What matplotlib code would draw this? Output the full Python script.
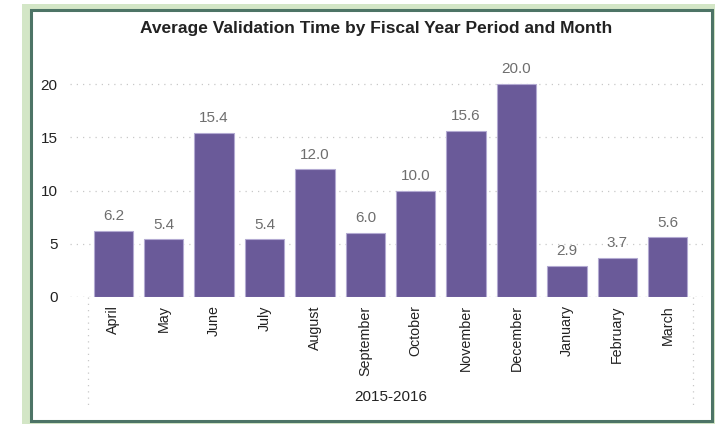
import matplotlib
matplotlib.use("Agg")
import matplotlib.pyplot as plt
from matplotlib.patches import Rectangle

plt.rcParams.update({"font.family": ["Liberation Sans", "DejaVu Sans"]})

months = ["April", "May", "June", "July", "August", "September", "October",
          "November", "December", "January", "February", "March"]
avg_time = [6.2, 5.4, 15.4, 5.4, 12.0, 6.0, 10.0, 15.6, 20.0, 2.9, 3.7, 5.6]
period = "2015-2016"
yticks = [0, 5, 10, 15, 20]

W, H = 715, 424
fig = plt.figure(figsize=(W / 100, H / 100), dpi=100)
fig.patch.set_facecolor("white")

# panel frame: light green band + dark teal border
fig.patches.append(Rectangle((22 / W, 0), (W - 22) / W, (H - 4) / H,
                             transform=fig.transFigure, facecolor="#d3e6c6",
                             edgecolor="none", zorder=0))
fig.patches.append(Rectangle((31 / W, 3 / H), (712 - 31) / W, (H - 13) / H,
                             transform=fig.transFigure, facecolor="white",
                             edgecolor="#4d7466", lw=2.2, zorder=1))

y0, ppu = 297, 10.65
ytop = 22.5
ax = fig.add_axes([70 / W, (H - y0) / H, 635 / W, ytop * ppu / H])
ax.set_zorder(2)
ax.patch.set_alpha(0)

x = range(len(months))
bars = ax.bar(x, avg_time, width=0.78, color="#6a5a99", edgecolor="#b3aad2",
              lw=0.8, zorder=3)
for xi, v in zip(x, avg_time):
    ax.annotate(f"{v:.1f}", (xi, v), xytext=(0, 5.5), textcoords="offset points",
                ha="center", va="bottom", fontsize=11, color="#6e6e6e")

ax.set_xlim(-0.86, 11.74)
ax.set_ylim(0, ytop)
ax.set_yticks(yticks)
ax.set_xticks(list(x))
ax.set_xticklabels(months, rotation=90, fontsize=10.3, color="#222222")
ax.tick_params(axis="y", length=0, pad=9, labelsize=11, labelcolor="#222222")
ax.tick_params(axis="x", length=0, pad=6)
for s in ax.spines.values():
    s.set_visible(False)
ax.grid(axis="y", color="#c8c8c8", lw=0.9, ls=(0, (1, 4)), zorder=0)
ax.axhline(0, color="#c8c8c8", lw=0.9, ls=(0, (1, 4)), zorder=1)

# period group boundaries below the axis
tr = ax.get_xaxis_transform()
for xb in (-0.5, len(months) - 0.5):
    ax.plot([xb, xb], [0, -0.463], transform=tr, color="#c8c8c8", lw=0.9,
            ls=(0, (1, 4)), clip_on=False)
ax.text((len(months) - 1) / 2, -0.417, period, transform=tr, ha="center",
        va="center", fontsize=11, color="#222222")

fig.text(376 / W, 1 - 28 / H,
         "Average Validation Time by Fiscal Year Period and Month",
         ha="center", va="center", fontsize=12.5, fontweight="bold",
         color="#222222")

fig.savefig("out.png", dpi=100)
